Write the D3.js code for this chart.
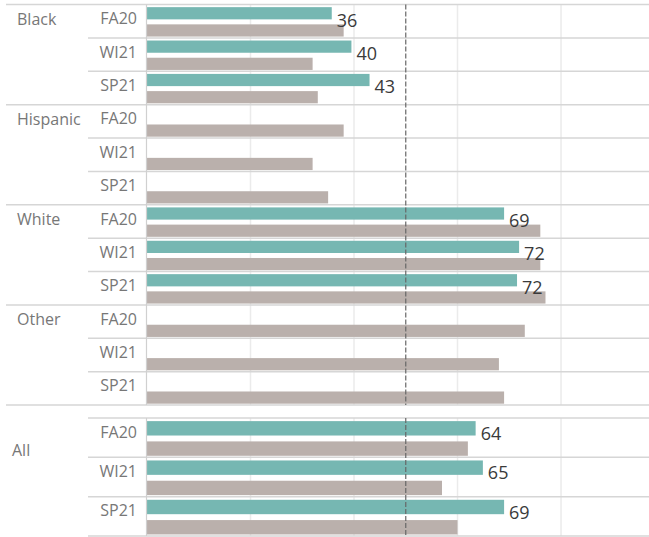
<!DOCTYPE html>
<html>
<head>
<meta charset="utf-8">
<script src="https://cdn.jsdelivr.net/npm/d3@7"></script>
<style>
  html, body { margin: 0; padding: 0; background: #fff; }
  svg { display: block; font-family: "Open Sans", "Noto Sans", sans-serif; }
</style>
</head>
<body>
<svg id="chart" width="649" height="537"></svg>
<script>
// ---- data ----
const groups = ["Black", "Hispanic", "White", "Other", "All"];
const terms = ["FA20", "WI21", "SP21"];
// teal series (labelled), one value per group x term, null = no bar
const tealValues = [35.7, 39.5, 43, null, null, null, 69, 71.9, 71.5, null, null, null, 63.5, 64.9, 69];
// gray series
const grayValues = [38, 32, 33, 38, 32, 35, 76, 76, 77, 73, 68, 69, 62, 57, 60];
const tealLabels = ["36", "40", "43", "", "", "", "69", "72", "72", "", "", "", "64", "65", "69"];
const gridTicks = [20, 40, 60, 80];
const referenceValue = 50;

// ---- layout ----
const W = 649, H = 537;
const svg = d3.select("#chart");
const x = d3.scaleLinear().domain([0, 97]).range([147, W]);

const mainGroups = groups.slice(0, 4);
const yGroup = d3.scaleBand().domain(mainGroups).range([4.5, 405]);
const yAll = d3.scaleBand().domain(terms).range([418, 536]);

const rows = [];
groups.forEach((g, gi) => {
  terms.forEach((t, ti) => {
    const idx = gi * 3 + ti;
    let top, h;
    if (g === "All") {
      top = yAll(t); h = yAll.bandwidth();
    } else {
      const gh = yGroup.bandwidth() / 3;
      top = yGroup(g) + ti * gh; h = gh;
    }
    rows.push({ g, t, gi, ti, top, h, teal: tealValues[idx], gray: grayValues[idx], label: tealLabels[idx] });
  });
});

const sections = [[4.5, 405], [418, 536]];

// gridlines
sections.forEach(([y0, y1]) => {
  svg.append("g").selectAll("line").data(gridTicks).join("line")
    .attr("x1", d => x(d)).attr("x2", d => x(d))
    .attr("y1", y0).attr("y2", y1)
    .attr("stroke", "#ebebeb").attr("stroke-width", 1.5);
});

// bars
const inner = d3.scaleBand().domain(["teal", "gray"]).paddingInner(0.29).paddingOuter(0.115).align(0.67);
rows.forEach(r => {
  inner.range([r.top, r.top + r.h]);
  if (r.teal != null) {
    svg.append("rect").attr("x", x(0)).attr("y", inner("teal"))
      .attr("width", x(r.teal) - x(0)).attr("height", inner.bandwidth())
      .attr("fill", "#76b7b2");
  }
  if (r.gray != null) {
    svg.append("rect").attr("x", x(0)).attr("y", inner("gray"))
      .attr("width", x(r.gray) - x(0)).attr("height", inner.bandwidth())
      .attr("fill", "#bab0ac");
  }
});

// row separators
rows.forEach(r => {
  if (r.ti > 0) {
    svg.append("line").attr("x1", 88).attr("x2", W).attr("y1", r.top).attr("y2", r.top)
      .attr("stroke", "#d6d6d6").attr("stroke-width", 1.5);
  }
});
// group separators
mainGroups.forEach(g => {
  svg.append("line").attr("x1", 6).attr("x2", W).attr("y1", yGroup(g)).attr("y2", yGroup(g))
    .attr("stroke", "#d6d6d6").attr("stroke-width", 1.5);
});
svg.append("line").attr("x1", 6).attr("x2", W).attr("y1", 405).attr("y2", 405)
  .attr("stroke", "#d6d6d6").attr("stroke-width", 1.5);
svg.append("line").attr("x1", 88).attr("x2", W).attr("y1", 418).attr("y2", 418)
  .attr("stroke", "#d6d6d6").attr("stroke-width", 1.5);
svg.append("line").attr("x1", 88).attr("x2", W).attr("y1", 536).attr("y2", 536)
  .attr("stroke", "#d6d6d6").attr("stroke-width", 1.5);

// zero axis line
sections.forEach(([y0, y1]) => {
  svg.append("line").attr("x1", x(0) - 0.5).attr("x2", x(0) - 0.5).attr("y1", y0).attr("y2", y1)
    .attr("stroke", "#d0d0d0").attr("stroke-width", 1.2);
});

// reference dashed line
sections.forEach(([y0, y1]) => {
  svg.append("line").attr("x1", x(referenceValue)).attr("x2", x(referenceValue))
    .attr("y1", y0).attr("y2", y1)
    .attr("stroke", "#666").attr("stroke-width", 1.2).attr("stroke-dasharray", "5,2");
});

// value labels
rows.filter(r => r.teal != null).forEach(r => {
  svg.append("text").attr("x", x(r.teal) + 5).attr("y", r.top + 22)
    .attr("font-size", 18).attr("fill", "#3a3a3a").text(r.label);
});

// row headers
rows.forEach(r => {
  svg.append("text").attr("x", 137).attr("y", r.top + 19.8)
    .attr("text-anchor", "end").attr("font-size", 16).attr("fill", "#777").text(r.t);
});
// group headers
mainGroups.forEach(g => {
  svg.append("text").attr("x", 17).attr("y", yGroup(g) + 20)
    .attr("font-size", 16).attr("fill", "#777").text(g);
});
svg.append("text").attr("x", 12).attr("y", 418 + 38)
  .attr("font-size", 16).attr("fill", "#777").text("All");
</script>
</body>
</html>
